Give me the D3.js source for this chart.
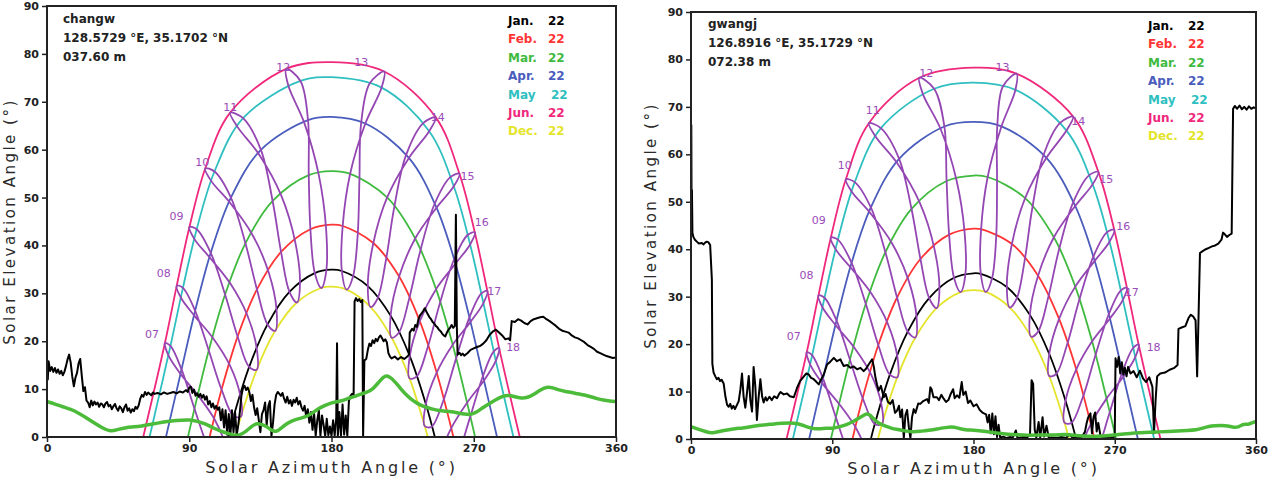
<!DOCTYPE html>
<html>
<head>
<meta charset="utf-8">
<script src="https://cdn.jsdelivr.net/npm/d3@7"></script>
<style>
  body { margin: 0; background: #fff; }
  svg { display: block; }
  text { font-family: "DejaVu Sans", sans-serif; }
</style>
</head>
<body>
<svg id="chart" width="1268" height="479"></svg>
<script>
// dates of the year (22nd of each month), sun position at each clock hour
var dates = ["Jan 22","Feb 22","Mar 22","Apr 22","May 22","Jun 22","Jul 22","Aug 22","Sep 22","Oct 22","Nov 22","Dec 22"];
var hours = ["07","08","09","10","11","12","13","14","15","16","17","18"];

// months drawn as day paths (index into dates) + legend
var monthNames = ["Jan.","Feb.","Mar.","Apr.","May","Jun.","Dec."];
var monthDay   = ["22","22","22","22","22","22","22"];
var monthIdx   = [0,1,2,3,4,5,11];
var monthColor = ["#000000","#ff3535","#3fba3f","#4a5cbc","#2fbfc0","#f0287c","#e4e42c"];
var riseAz  = [114.61,102.88,89.15,75.27,64.89,60.88,119.12];
var setAz   = [245.39,257.12,270.85,284.73,295.11,299.12,240.88];
var noonEl  = [34.93,44.33,55.53,66.83,75.13,78.27,31.39];

// changw : azimuth / elevation, rows = dates, cols = hours 07..18
var changwAz = [
  [109.55,118.12,127.91,139.52,153.39,169.43,186.54,202.97,217.40,229.53,239.69,248.50],
  [101.54,110.45,120.59,132.84,148.09,166.65,187.08,206.47,222.79,235.86,246.57,255.77],
  [93.32,102.35,112.67,125.54,142.75,165.61,191.80,215.20,232.95,246.17,256.68,265.79],
  [85.11,93.74,103.59,116.36,135.33,165.14,201.41,228.97,246.44,258.43,267.95,276.47],
  [78.10,85.99,94.72,105.96,124.04,160.36,211.70,241.80,257.36,267.71,276.11,283.95],
  [74.61,82.09,90.12,100.10,115.88,151.35,213.35,246.00,260.94,270.65,278.59,286.06],
  [76.91,84.75,93.28,103.96,120.40,152.62,204.12,238.02,255.15,266.06,274.68,282.54],
  [84.76,93.36,103.11,115.61,133.97,162.74,198.73,226.99,245.01,257.34,267.02,275.60],
  [95.94,105.20,116.00,129.76,148.17,171.98,197.66,219.54,235.96,248.40,258.47,267.41],
  [106.33,115.72,126.73,140.28,157.02,176.55,196.57,214.41,228.99,240.77,250.62,259.38],
  [113.29,122.29,132.75,145.26,160.05,176.64,193.58,209.20,222.59,233.81,243.31,251.70],
  [114.21,122.78,132.67,144.36,158.08,173.54,189.58,204.76,218.09,229.39,238.98,247.35]
];
var changwEl = [
  [-6.86,4.35,14.64,23.51,30.31,34.23,34.66,31.52,25.34,16.89,6.89,-4.13],
  [-1.87,9.91,20.97,30.81,38.64,43.38,44.06,40.50,33.51,24.19,13.44,1.85],
  [5.91,18.05,29.74,40.45,49.29,54.69,54.96,50.02,41.45,30.88,19.26,7.15],
  [14.11,26.35,38.46,50.00,59.97,66.18,65.46,58.28,47.88,36.20,24.04,11.80],
  [19.01,31.15,43.39,55.44,66.58,74.35,72.96,63.86,52.35,40.21,27.97,15.90],
  [19.62,31.62,43.84,56.07,67.73,76.88,76.32,66.74,54.97,42.75,30.54,18.57],
  [16.98,29.07,41.32,53.43,64.81,73.43,73.80,65.55,54.26,42.18,29.93,17.82],
  [13.04,25.29,37.42,48.98,59.09,65.65,65.48,58.70,48.50,36.91,24.77,12.53],
  [8.52,20.57,32.03,42.35,50.44,54.67,53.62,47.69,38.59,27.74,16.00,3.84],
  [3.50,14.94,25.42,34.34,40.75,43.57,42.16,36.85,28.67,18.63,7.46,-4.37],
  [-2.22,8.63,18.35,26.42,32.07,34.55,33.46,28.97,21.76,12.60,2.15,-9.17],
  [-6.45,4.33,14.03,22.17,28.09,31.11,30.78,27.14,20.73,12.24,2.29,-8.65]
];

// gwangj
var gwangjAz = [
  [108.59,117.09,126.71,138.09,151.72,167.57,184.66,201.24,215.91,228.28,238.63,247.51],
  [100.54,109.38,119.34,131.30,146.20,164.47,184.85,204.47,221.14,234.53,245.46,254.74],
  [92.31,101.27,111.37,123.86,140.51,162.86,189.02,212.90,231.22,244.84,255.58,264.77],
  [84.14,92.71,102.32,114.58,132.60,161.44,197.84,226.45,244.79,257.23,266.94,275.52],
  [77.22,85.06,93.60,104.32,120.99,154.93,206.73,239.24,255.91,266.66,275.20,283.07],
  [73.77,81.22,89.11,98.66,113.30,145.50,207.40,243.50,259.56,269.66,277.73,285.22],
  [76.03,83.83,92.20,102.44,117.68,147.70,198.70,235.16,253.58,264.97,273.76,281.66],
  [83.80,92.33,101.86,113.88,131.33,159.11,195.13,224.40,243.31,256.11,266.00,274.64],
  [94.90,104.08,114.62,127.96,145.81,169.21,195.00,217.40,234.34,247.14,257.41,266.41],
  [105.28,114.58,125.35,138.58,154.99,174.34,194.45,212.59,227.51,239.56,249.58,258.40],
  [112.28,121.20,131.46,143.73,158.29,174.76,191.76,207.58,221.21,232.65,242.31,250.76],
  [113.25,121.75,131.46,142.94,156.45,171.78,187.83,203.16,216.71,228.22,237.97,246.41]
];
var gwangjEl = [
  [-8.12,3.15,13.57,22.63,29.71,33.99,34.81,32.04,26.16,17.92,8.07,-2.90],
  [-3.19,8.63,19.80,29.82,37.94,43.08,44.22,41.09,34.42,25.31,14.69,3.15],
  [4.55,16.72,28.49,39.36,48.49,54.37,55.22,50.78,42.52,32.12,20.59,8.51],
  [12.74,24.99,37.14,48.80,59.06,65.87,65.90,59.26,49.12,37.54,25.41,13.17],
  [17.65,29.78,42.03,54.14,65.52,73.83,73.60,65.01,53.67,41.58,29.33,17.25],
  [18.28,30.26,42.47,54.73,66.56,76.14,77.00,67.95,56.31,44.12,31.89,19.91],
  [15.63,27.71,39.96,52.11,63.69,72.75,74.30,66.64,55.57,43.54,31.29,19.18],
  [11.67,23.92,36.09,47.77,58.16,65.29,65.87,59.65,49.72,38.24,26.14,13.90],
  [7.17,19.25,30.81,41.32,49.75,54.49,54.01,48.53,39.71,29.01,17.34,5.20],
  [2.22,13.71,24.33,33.48,40.23,43.49,42.54,37.61,29.69,19.82,8.75,-3.05],
  [-3.44,7.48,17.35,25.65,31.61,34.47,33.77,29.63,22.68,13.70,3.37,-7.90],
  [-7.66,3.18,13.03,21.38,27.59,30.96,31.00,27.70,21.56,13.27,3.46,-7.42]
];

// terrain horizon (black) , [azimuth, elevation]
var changwHorizon = [[0,14.5],[0.5,12],[1,15.8],[2,13.8],[3,14.6],[4,13.6],[5,14.4],[6,13.4],[7,14.1],[8,13.2],[9,13.8],[10,12.9],[11,13.6],[12,14.8],[13,16.2],[14,17.2],[15,15.5],[16,12.6],[17,10.6],[18,12.4],[19,13.4],[20,15.4],[21,16.3],[22,12.8],[23,9.6],[24,10.4],[25,7.6],[26,7.2],[27,6.2],[28,7.6],[29,6.6],[30,7.4],[31,6.8],[32,7.2],[33,6.3],[34,7.0],[35,6.8],[36,6.2],[37,7.0],[38,7.3],[39,6.4],[40,6.7],[41,5.8],[42,6.4],[43,6.9],[44,6.0],[45,5.5],[46,6.4],[47,6.0],[48,5.2],[49,6.2],[50,6.8],[51,5.5],[52,6.0],[53,5.1],[54,5.8],[55,5.4],[56,6.3],[57,5.9],[58,6.6],[59,8.0],[60,8.8],[61,8.4],[62,9.4],[63,8.8],[64,9.3],[65,9.0],[66,8.7],[67,9.3],[68,9.0],[70,9.2],[72,8.9],[74,9.3],[76,9.0],[78,9.2],[80,9.4],[82,9.1],[84,9.5],[86,9.3],[88,9.8],[89,9.4],[90,10.3],[91,10.5],[92,9.2],[93,9.9],[94,8.6],[95,9.1],[96,8.4],[97,9.0],[98,8.2],[99,8.8],[100,7.8],[101,8.5],[102,6.8],[103,7.5],[104,6.2],[105,7.0],[106,5.9],[107,6.5],[108,5.7],[109,6.2],[110,3.5],[111,5.8],[112,2.0],[113,5.6],[114,0.5],[115,4.8],[116,0.2],[117,5.6],[118,1.0],[119,5.2],[120,0.3],[121,2.5],[122,5.2],[123,8.6],[124,10.2],[125,10.7],[126,9.8],[127,10.3],[128,9.4],[129,7.5],[130,8.8],[131,6.2],[132,4.6],[133,6.0],[134,3.5],[135,1.0],[136,4.8],[137,5.6],[138,7.2],[139,2.4],[140,6.4],[141,7.5],[142,0.2],[143,3.0],[144,6.8],[145,8.8],[146,9.4],[147,9.0],[148,8.6],[149,9.2],[150,8.0],[151,7.2],[152,8.4],[153,7.0],[154,7.7],[155,6.5],[156,7.8],[157,7.2],[158,8.2],[159,6.8],[160,7.5],[161,6.2],[162,5.5],[163,6.5],[164,4.2],[165,5.8],[166,3.0],[167,5.2],[168,1.5],[169,4.8],[170,0.3],[171,3.5],[172,5.5],[173,0.2],[174,4.5],[175,2.5],[176,0.2],[177,3.8],[178,0.4],[179,2.2],[180,0.2],[181,3.5],[182,0.3],[183,4.0],[183.5,19.6],[184,0.2],[185,5.2],[186,0.3],[187,6.8],[188,0.5],[189,4.5],[190,0.2],[191,7.5],[192,8.6],[193,9.0],[194,8.8],[194.6,28.3],[195.5,29.0],[196.5,28.4],[197.5,28.8],[198.5,28.2],[199.5,28.6],[200,0.2],[200.8,16.0],[202,16.3],[203,18.2],[204,19.5],[205,19.0],[206,20.2],[207,19.6],[208,20.5],[209,20.0],[210,20.8],[211,21.2],[212,20.6],[213,20.0],[214,20.4],[215,19.8],[216,17.5],[217,16.8],[218,16.4],[220,16.8],[222,16.2],[224,16.7],[226,16.3],[228,16.8],[229,17.2],[229.5,21.8],[231,22.6],[232,22.2],[233,23.4],[234,23.0],[235,24.6],[236,25.4],[237,25.8],[238,26.3],[239,26.9],[240,26.2],[241,25.6],[242,25.0],[243,24.6],[244,24.0],[245,23.7],[246,23.2],[247,22.9],[248,22.4],[249,22.1],[250,21.6],[251,21.2],[252,21.0],[253,21.8],[254,22.4],[255,22.8],[256,23.4],[257,22.8],[258,23.2],[258.7,46.4],[259.3,23],[259.8,17.2],[261,17.6],[262,17.1],[263,17.4],[264,17.0],[266,17.5],[268,18.2],[270,18.5],[272,18.8],[274,19.0],[276,19.5],[278,20.2],[280,21.3],[282,22.0],[284,22.4],[286,21.8],[288,21.2],[290,20.4],[292,20.6],[293,20.2],[294,24.2],[296,24.0],[298,24.6],[300,24.3],[302,23.8],[304,23.5],[306,24.2],[308,24.6],[310,24.8],[312,25.0],[314,25.1],[316,24.6],[318,24.2],[320,23.7],[322,23.2],[324,22.6],[326,22.2],[328,22.0],[330,21.8],[332,21.2],[334,20.8],[336,20.6],[338,20.2],[340,19.8],[342,19.2],[344,18.8],[346,18.4],[348,17.8],[350,17.5],[352,17.2],[354,16.9],[356,16.7],[358,16.5],[360,16.6]];

var gwangjHorizon = [[0,44],[0.2,66.2],[0.4,45],[0.6,52.5],[0.9,43.5],[1.5,42.6],[2.5,42.0],[3.7,41.6],[5,41.2],[6.9,41.3],[8,41.0],[9,41.4],[10.1,41.6],[11,41.5],[12.2,40.9],[13.3,33.6],[13.6,15.9],[14.4,14.0],[15.5,13.2],[16.5,12.6],[17.5,12.9],[18.5,12.2],[19.5,12.5],[20.8,11.7],[21.9,9.0],[23,7.2],[24,6.8],[25,7.4],[26,6.4],[27,7.0],[28,6.3],[29.3,7.2],[30.4,8.0],[31.5,10.5],[32.5,13.8],[33.5,9.0],[34.6,6.6],[35.6,9.5],[36.8,13.3],[37.8,8.2],[38.9,5.8],[39.9,15.2],[41,11.0],[42,4.0],[43,8.5],[44.2,12.6],[45.3,9.0],[46.3,7.7],[47.5,8.8],[48.4,8.1],[50,8.9],[51.5,8.2],[53,9.0],[54.8,8.6],[56,9.4],[57,9.9],[59,9.4],[61.2,9.6],[63,9.0],[65.5,8.8],[67.6,10.8],[69.5,12.2],[71.9,13.2],[73.5,13.8],[75,13.6],[76.5,12.9],[78.2,12.6],[80,12.0],[81.4,11.5],[83,12.6],[84.6,13.6],[86.7,15.7],[88.5,16.2],[91,17.1],[93,16.4],[95.2,16.8],[96.3,16.0],[97.3,15.4],[99.5,15.6],[101.6,15.0],[103.5,15.3],[105.8,14.7],[108,15.0],[110,14.3],[111.5,14.8],[113.2,15.7],[115.4,16.8],[116.5,15.2],[117.5,13.0],[118.5,11.5],[119.6,10.2],[121,11.2],[122.8,8.8],[124,9.5],[125.5,7.8],[127,7.4],[128.5,8.2],[130,5.5],[131.3,6.0],[132.5,7.0],[133.4,4.6],[134.5,6.2],[135.6,0.2],[136.6,5.0],[137.7,6.1],[138.8,2.5],[139.8,0.2],[140.8,4.5],[141.9,6.3],[143,5.5],[144.8,7.5],[146.1,7.4],[148,8.0],[150.4,8.4],[151.5,7.6],[152.5,10.9],[153.3,10.5],[154.5,8.8],[156.7,8.8],[158,8.2],[159.5,9.3],[161,8.5],[162.5,7.8],[164,8.2],[165.5,9.5],[167,10.5],[168,8.6],[169.5,9.2],[171,8.7],[172.5,12.0],[173.5,9.3],[175,10.0],[176.5,7.6],[178,8.1],[180,6.9],[182,7.3],[184,6.1],[186,5.5],[188,5.2],[189,3.5],[190,5.1],[191,1.2],[192,5.4],[193,1.0],[194,4.8],[195,0.4],[196,3.0],[197,0.3],[199,0.5],[201,0.2],[203,0.4],[205,0.3],[207,1.8],[208,0.2],[210,0.3],[212,0.4],[214,0.3],[216,0.8],[217,12.4],[218,11.6],[219,2.0],[220,0.3],[221.5,3.6],[222.5,0.3],[224,4.6],[225,0.5],[226.5,2.8],[228,0.2],[230,0.3],[233,0.2],[236,0.4],[239,0.2],[241,1.0],[243,0.3],[246,0.2],[249,0.4],[251,1.5],[252,3.2],[253,4.5],[254.5,5.4],[255.5,1.2],[256.5,4.6],[257.5,5.6],[258.5,1.6],[259.5,3.4],[261,0.5],[263,0.3],[266,0.4],[268,0.3],[270,0.5],[270.5,17.0],[271.5,15.2],[272.5,17.3],[273.5,13.8],[274.5,16.2],[275.5,13.6],[276.5,15.0],[277.5,13.2],[278.5,15.2],[280,13.8],[282,14.3],[284,13.0],[286,14.4],[288,12.8],[290,12.0],[292,13.0],[294,11.0],[295,1.2],[296,8.0],[297,13.2],[299,13.8],[302,14.0],[305,14.6],[308,15.0],[310,15.6],[310.6,23.2],[312.6,23.5],[315,23.8],[317,25.5],[318.5,26.2],[320,25.8],[321.5,25.0],[322.5,13.2],[323.3,24.5],[324.3,39.2],[326,39.6],[328,40.0],[330,40.3],[332,40.6],[334,40.8],[336,41.2],[338,42.0],[339,43.5],[340,43.2],[341.5,42.6],[343,43.0],[344.5,43.3],[345.4,69.6],[346.5,70.2],[348,69.6],[349.5,70.3],[351,69.5],[352.5,70.0],[354,69.4],[355.5,70.1],[357,69.6],[358.5,69.9],[360,69.7]];

// green line
var changwGreen = [[0,7.4],[5,6.9],[10,6.3],[15,5.8],[20,5.0],[25,4.0],[30,2.9],[35,1.9],[40,1.1],[45,1.6],[50,2.0],[55,2.1],[60,2.3],[65,2.6],[70,2.9],[75,3.2],[80,3.4],[85,3.5],[90,3.6],[95,3.3],[100,2.8],[105,1.9],[110,1.2],[115,0.7],[120,0.2],[123,0.6],[126,1.2],[130,2.4],[133,2.9],[136,2.6],[139,2.2],[142,1.4],[145,1.0],[148,1.8],[152,2.9],[156,3.5],[160,3.9],[164,4.2],[168,5.0],[172,6.0],[176,6.6],[180,7.2],[185,7.4],[190,8.0],[194,8.4],[198,8.9],[202,9.3],[206,9.9],[210,11.5],[213,12.6],[215,12.9],[218,12.3],[221,11.2],[224,10.0],[227,8.9],[230,8.0],[233,7.3],[236,6.7],[240,6.2],[244,5.8],[248,5.5],[252,5.4],[256,5.3],[260,5.0],[264,4.8],[268,4.6],[272,5.2],[276,6.2],[280,7.0],[284,7.8],[288,8.5],[292,8.8],[296,8.4],[300,8.1],[304,8.2],[308,8.9],[312,9.8],[316,10.5],[320,10.3],[324,9.8],[328,9.5],[332,9.3],[336,9.0],[340,8.8],[344,8.4],[348,8.0],[352,7.7],[356,7.5],[360,7.4]];
var gwangjGreen = [[0,2.6],[5,2.0],[10,1.5],[13,1.2],[18,1.6],[23,1.9],[28,2.2],[33,2.3],[38,2.6],[43,2.9],[48,3.0],[53,3.2],[58,3.3],[63,3.4],[68,3.3],[72,2.8],[77,2.2],[82,2.1],[86,2.3],[90,2.2],[95,2.6],[99,3.0],[103,3.6],[107,4.4],[110,5.0],[112,5.4],[114,5.1],[117,4.0],[120,3.2],[124,2.7],[128,2.2],[132,2.0],[136,1.7],[141,1.5],[146,1.6],[150,1.8],[154,1.9],[158,2.2],[162,2.4],[166,2.6],[170,2.3],[175,1.9],[180,1.9],[185,1.7],[190,1.5],[196,1.2],[202,1.0],[208,0.9],[214,0.8],[220,0.8],[226,0.9],[232,0.8],[238,1.0],[244,0.8],[250,0.6],[256,0.5],[262,0.6],[268,0.8],[274,1.0],[280,1.2],[286,1.3],[292,1.4],[298,1.5],[304,1.6],[310,1.7],[316,1.8],[322,1.9],[326,2.3],[330,2.7],[334,2.8],[338,2.9],[342,2.8],[346,2.4],[349,2.5],[352,3.2],[355,3.0],[358,3.5],[360,3.7]];

var xTicks = [0,90,180,270,360];
var yTicks = [0,10,20,30,40,50,60,70,80,90];

var svg = d3.select("#chart");
svg.append("rect").attr("width",1268).attr("height",479).attr("fill","#fff");

var panels = [
  { id:"changw", x0:47, x1:616, yTop:6, yBot:437,
    az:changwAz, el:changwEl, horizon:changwHorizon, green:changwGreen,
    info:["changw","128.5729 \u00B0E, 35.1702 \u00B0N","037.60 m"], infoX:63, infoY:23,
    legendX:508, legendY:25, yTitleX:15, xTitleY:473,
    labelOff:[[-13,-9],[-13,-12],[-13,-11],[-3,-6.5],[0,-5.6],[-3,-2],[-23,-9.5],[2,0],[8,2],[7,-10],[7,0],[14,-1]] },
  { id:"gwangj", x0:691, x1:1256, yTop:12, yBot:439,
    az:gwangjAz, el:gwangjEl, horizon:gwangjHorizon, green:gwangjGreen,
    info:["gwangj","126.8916 \u00B0E, 35.1729 \u00B0N","072.38 m"], infoX:708, infoY:28,
    legendX:1148, legendY:30, yTitleX:656, xTitleY:474,
    labelOff:[[-13,-16],[-12,-20],[-12,-17.5],[-1,-14],[4,-13],[7,-5],[-14,-7],[5,5],[8,7],[9,-4],[5,4],[15,3]] }
];

panels.forEach(function(p) {

  var x = d3.scaleLinear().domain([0,360]).range([p.x0,p.x1]);
  var y = d3.scaleLinear().domain([0,90]).range([p.yBot,p.yTop]);
  var g = svg.append("g");

  g.append("clipPath").attr("id","clip-"+p.id)
    .append("rect")
    .attr("x",p.x0).attr("y",p.yTop)
    .attr("width",p.x1-p.x0).attr("height",p.yBot-p.yTop);

  // axes
  var ya = g.append("g").attr("transform","translate("+p.x0+",0)")
    .call(d3.axisLeft(y).tickValues(yTicks).tickSize(5).tickPadding(3));
  var xa = g.append("g").attr("transform","translate(0,"+p.yBot+")")
    .call(d3.axisBottom(x).tickValues(xTicks).tickSize(5).tickPadding(2));
  [ya,xa].forEach(function(a){
    a.select(".domain").remove();
    a.selectAll("line").attr("stroke","#222").attr("stroke-width",1.5);
    a.selectAll("text").attr("fill","#222").style("font-size","11px").style("font-weight","bold");
  });

  g.append("text")
    .attr("x",(p.x0+p.x1)/2).attr("y",p.xTitleY)
    .attr("text-anchor","middle")
    .style("font-size","16px").style("letter-spacing","2.8px").attr("fill","#2a2a2a")
    .text("Solar Azimuth Angle (\u00B0)");
  g.append("text")
    .attr("transform","translate("+p.yTitleX+","+((p.yTop+p.yBot)/2)+") rotate(-90)")
    .attr("text-anchor","middle")
    .style("font-size","15px").style("letter-spacing","2.5px").attr("fill","#2a2a2a")
    .text("Solar Elevation Angle (\u00B0)");

  var plot = g.append("g").attr("clip-path","url(#clip-"+p.id+")");
  var line = d3.line().x(function(d){return x(d[0]);}).y(function(d){return y(d[1]);});

  // hour labels (at the June end of each loop)
  var jun = 5;
  g.selectAll("text.hour").data(hours).enter().append("text")
    .attr("class","hour")
    .attr("x",function(d,i){return x(p.az[jun][i]) + p.labelOff[i][0];})
    .attr("y",function(d,i){return y(p.el[jun][i]) + p.labelOff[i][1];})
    .attr("dy","0.35em")
    .attr("text-anchor","middle")
    .attr("fill","#9a4cb8")
    .style("font-size","11px")
    .text(function(d){return d;});

  // day paths of the sun for each month
  monthIdx.forEach(function(di, m) {
    var pts = [[riseAz[m],0],[180,noonEl[m]],[setAz[m],0]];
    p.az[di].forEach(function(a,h){ if (p.el[di][h] > 0) pts.push([a,p.el[di][h]]); });
    pts.sort(function(a,b){return a[0]-b[0];});
    plot.append("path")
      .attr("d", line.curve(d3.curveCatmullRom.alpha(0.5))(pts))
      .attr("fill","none").attr("stroke",monthColor[m]).attr("stroke-width",1.8);
  });

  // analemma loops, one per clock hour
  hours.forEach(function(hname, h) {
    var pts = dates.map(function(dn,di){return [p.az[di][h], p.el[di][h]];});
    plot.append("path")
      .attr("d", line.curve(d3.curveCatmullRomClosed.alpha(0.5))(pts))
      .attr("fill","none").attr("stroke","#9446b3").attr("stroke-width",1.8);
  });

  // horizon
  plot.append("path")
    .attr("d", line.curve(d3.curveLinear)(p.horizon))
    .attr("fill","none").attr("stroke","#000").attr("stroke-width",2)
    .attr("stroke-linejoin","round");

  plot.append("path")
    .attr("d", line.curve(d3.curveBasis)(p.green))
    .attr("fill","none").attr("stroke","#4cbb3a").attr("stroke-width",3.5);

  // frame
  g.append("rect")
    .attr("x",p.x0).attr("y",p.yTop)
    .attr("width",p.x1-p.x0).attr("height",p.yBot-p.yTop)
    .attr("fill","none").attr("stroke","#222").attr("stroke-width",2);

  // station info
  g.selectAll("text.info").data(p.info).enter().append("text")
    .attr("class","info")
    .attr("x",p.infoX).attr("y",function(d,i){return p.infoY + i*19;})
    .attr("fill","#222").style("font-size","12px").style("font-weight","bold")
    .text(function(d){return d;});

  // legend
  monthNames.forEach(function(name, m) {
    var ly = p.legendY + m*18.4;
    g.append("text").attr("x",p.legendX).attr("y",ly)
      .attr("fill",monthColor[m]).style("font-size","12px").style("font-weight","bold")
      .text(name);
    g.append("text").attr("x",p.legendX + (name === "May" ? 43 : 40)).attr("y",ly)
      .attr("fill",monthColor[m]).style("font-size","12px").style("font-weight","bold")
      .text(monthDay[m]);
  });
});
</script>
</body>
</html>
